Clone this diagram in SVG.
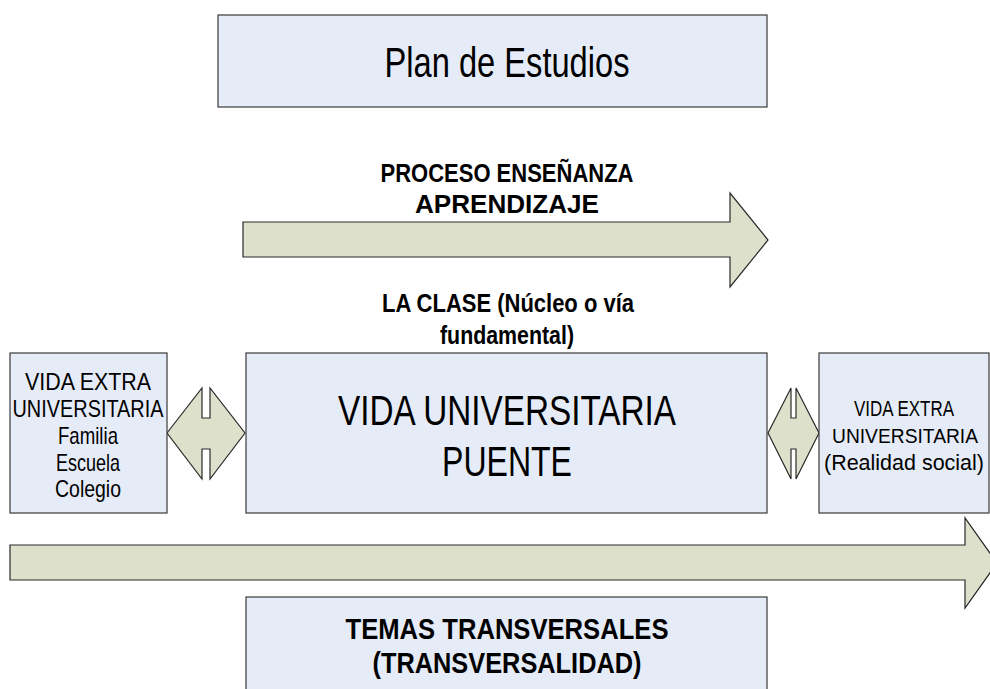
<svg xmlns="http://www.w3.org/2000/svg" width="990" height="689" viewBox="0 0 990 689">
<style>
.box{fill:#E6ECF7;stroke:#3a3a3a;stroke-width:1.2}
.arr{fill:#DDE1CC;stroke:#2a2a2a;stroke-width:1.2;stroke-linejoin:miter}
text{font-family:"Liberation Sans",Arial,sans-serif;fill:#000;text-anchor:middle}
.b{font-weight:bold;font-size:26px}
.t{font-weight:bold;font-size:30px}
.big{font-size:42px}
.l{font-size:24px}
.r{font-size:22px}
</style>
<rect width="990" height="689" fill="#fff"/>
<g id="plan">
<rect class="box" x="218" y="15" width="549" height="92"/>
<text class="big" x="507" y="77" textLength="245" lengthAdjust="spacingAndGlyphs">Plan de Estudios</text>
</g>
<g id="connectors">
<path id="proceso-arrow" class="arr" d="M243,222 H730 V193 L768,240 L730,287 V257 H243 Z"/>
<path id="transversal-arrow" class="arr" d="M10,545 H965 V518 L997,563 L965,608 V580 H10 Z"/>
<path id="left-double" class="arr" d="M167,433 L202,388 V418 H210 V388 L245,433 L210,479 V449 H202 V479 Z"/>
<path id="right-double" class="arr" d="M768,433 L791,388 V418 H796 V388 L819,433 L796,479 V449 H791 V479 Z"/>
</g>
<g id="proceso-label">
<text class="b" x="507" y="182" textLength="253" lengthAdjust="spacingAndGlyphs">PROCESO ENSEÑANZA</text>
<text class="b" x="507" y="213" textLength="184" lengthAdjust="spacingAndGlyphs">APRENDIZAJE</text>
</g>
<g id="clase-label">
<text class="b" x="508" y="312" textLength="252" lengthAdjust="spacingAndGlyphs">LA CLASE (Núcleo o vía</text>
<text class="b" x="507" y="344" textLength="134" lengthAdjust="spacingAndGlyphs">fundamental)</text>
</g>
<g id="vida-extra-izq">
<rect class="box" x="10" y="353" width="157" height="160"/>
<text class="l" x="88" y="390" textLength="126" lengthAdjust="spacingAndGlyphs">VIDA EXTRA</text>
<text class="l" x="88" y="417" textLength="151" lengthAdjust="spacingAndGlyphs">UNIVERSITARIA</text>
<text class="l" x="88" y="444" textLength="60" lengthAdjust="spacingAndGlyphs">Familia</text>
<text class="l" x="88" y="471" textLength="64" lengthAdjust="spacingAndGlyphs">Escuela</text>
<text class="l" x="88" y="497" textLength="66" lengthAdjust="spacingAndGlyphs">Colegio</text>
</g>
<g id="vida-universitaria">
<rect class="box" x="246" y="353" width="521" height="160"/>
<text class="big" x="507" y="425" textLength="338" lengthAdjust="spacingAndGlyphs">VIDA UNIVERSITARIA</text>
<text class="big" x="507" y="476" textLength="130" lengthAdjust="spacingAndGlyphs">PUENTE</text>
</g>
<g id="vida-extra-der">
<rect class="box" x="819" y="353" width="170" height="160"/>
<text class="r" x="904" y="416" textLength="100" lengthAdjust="spacingAndGlyphs">VIDA EXTRA</text>
<text class="r" x="905" y="443" textLength="146" lengthAdjust="spacingAndGlyphs" style="font-size:20px">UNIVERSITARIA</text>
<text class="r" x="904" y="470" textLength="160" lengthAdjust="spacingAndGlyphs">(Realidad social)</text>
</g>
<g id="temas">
<rect class="box" x="246" y="597" width="521" height="100"/>
<text class="t" x="507" y="639" textLength="323" lengthAdjust="spacingAndGlyphs">TEMAS TRANSVERSALES</text>
<text class="t" x="507" y="673" textLength="269" lengthAdjust="spacingAndGlyphs">(TRANSVERSALIDAD)</text>
</g>
</svg>
